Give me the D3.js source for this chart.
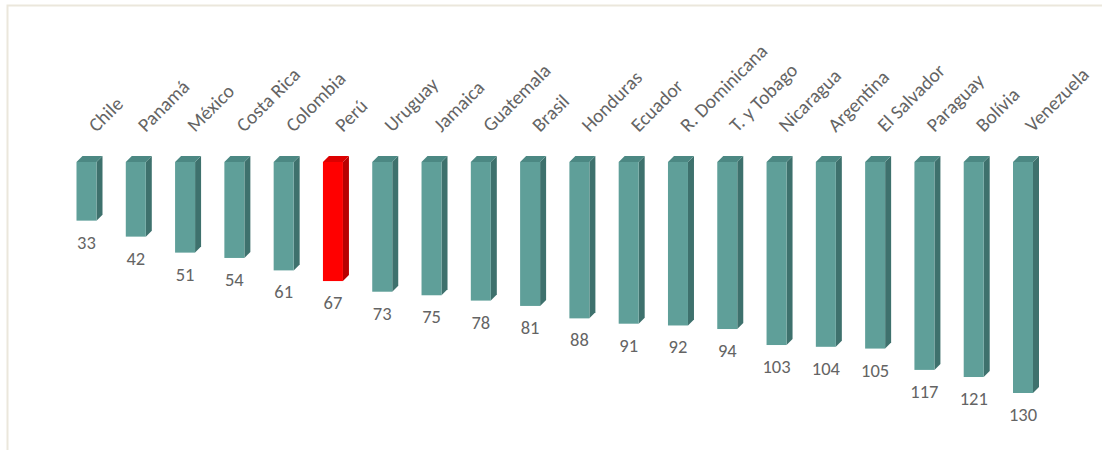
<!DOCTYPE html>
<html><head><meta charset="utf-8">
<script src="https://cdn.jsdelivr.net/npm/d3@7"></script>
<style>body{margin:0;background:#fff}svg{display:block}</style>
</head><body>
<script>
const categories = ["Chile","Panamá","México","Costa Rica","Colombia","Perú","Uruguay","Jamaica","Guatemala","Brasil","Honduras","Ecuador","R. Dominicana","T. y Tobago","Nicaragua","Argentina","El Salvador","Paraguay","Bolívia","Venezuela"];
const values = [33,42,51,54,61,67,73,75,78,81,88,91,92,94,103,104,105,117,121,130];
const highlight = ["Perú"];

const W = 1102, H = 450;
const svg = d3.select("body").append("svg").attr("width", W).attr("height", H);

svg.append("rect").attr("x", 7.5).attr("y", 5.5).attr("width", W).attr("height", H)
  .attr("fill", "#fff").attr("stroke", "#ebe7dc").attr("stroke-width", 2);

const x = d3.scalePoint().domain(categories).range([86.5, 1023]);
const y = d3.scaleLinear().domain([0, 130]).range([162, 393]);
const bw = 20, dp = 6;
const font = "Calibri, Carlito, Lato, 'Open Sans', sans-serif";

const data = categories.map((c, i) => ({c, v: values[i], hl: highlight.includes(c)}));
const g = svg.append("g").selectAll("g").data(data).join("g");

const col = d => d.hl ? {f:"#ff0000", s:"#b80000", t:"#dd0000"} : {f:"#5f9f99", s:"#3e716d", t:"#4c8883"};

g.append("path").attr("fill", d => col(d).s).attr("d", d => {
  const x1 = x(d.c) + bw/2, y0 = y(0), y1 = y(d.v);
  return `M${x1},${y0}L${x1+dp},${y0-dp}L${x1+dp},${y1-dp}L${x1},${y1}Z`;
});
g.append("path").attr("fill", d => col(d).t).attr("d", d => {
  const x0 = x(d.c) - bw/2, x1 = x(d.c) + bw/2, y0 = y(0);
  return `M${x0},${y0}L${x0+dp},${y0-dp}L${x1+dp},${y0-dp}L${x1},${y0}Z`;
});
g.append("rect").attr("fill", d => col(d).f)
  .attr("x", d => x(d.c) - bw/2).attr("y", y(0))
  .attr("width", bw).attr("height", d => y(d.v) - y(0));

g.append("text").attr("x", d => x(d.c)).attr("y", d => y(d.v) + 28)
  .attr("text-anchor", "middle").attr("fill", "#646464")
  .style("font-family", font).style("font-size", "18.5px")
  .text(d => d.v);

g.append("text")
  .attr("transform", d => `translate(${x(d.c) + 10},${133}) rotate(-45)`)
  .attr("fill", "#646464").style("font-family", font).style("font-size", "19.5px")
  .text(d => d.c);
</script>
</body></html>
